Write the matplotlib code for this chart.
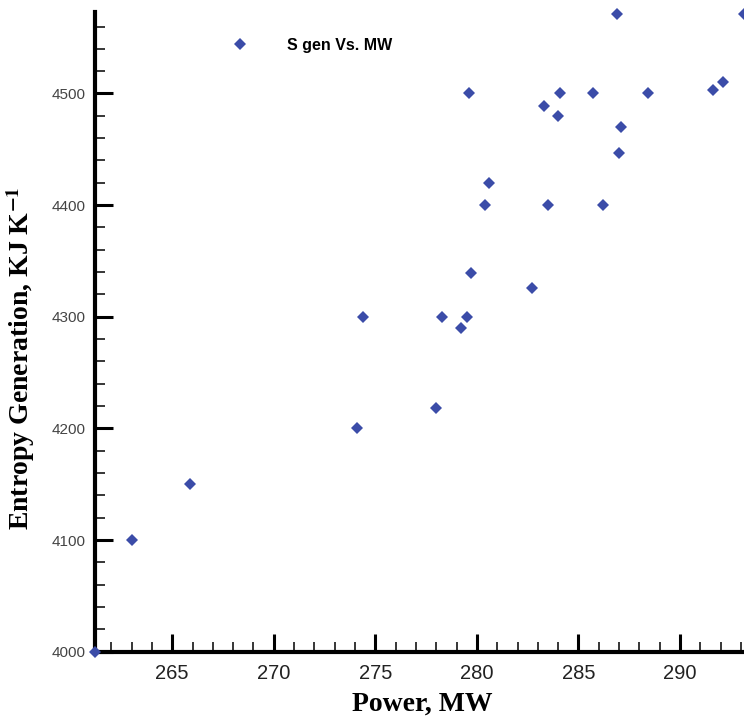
import matplotlib.pyplot as plt
from matplotlib.ticker import MultipleLocator

# dados
power_mw = [261.2, 263.0, 265.9, 274.1, 274.4, 278.0, 278.3, 279.2, 279.5,
            279.7, 279.6, 280.4, 280.6, 282.7, 283.3, 283.5, 284.1, 284.0,
            285.7, 286.2, 286.9, 287.0, 287.1, 288.4, 291.6, 292.1, 293.15]
s_gen = [4000, 4100, 4150, 4200, 4300, 4218, 4300, 4290, 4300,
         4339, 4500, 4400, 4420, 4326, 4489, 4400, 4500, 4480,
         4500, 4400, 4571, 4447, 4470, 4500, 4503, 4510, 4571]
series_name = 'S gen Vs. MW'

plt.rcParams['mathtext.fontset'] = 'stix'

fig = plt.figure(figsize=(7.44, 7.2), dpi=100)
ax = fig.add_axes([95 / 744, 68.3 / 720, 649 / 744, 639.7 / 720])

ax.plot(power_mw, s_gen, linestyle='none', marker='D', ms=6.2, mew=0,
        color='#3b4ca8', label=series_name, clip_on=False, zorder=3)

ax.set_xlim(261.2, 293.15)
ax.set_ylim(4000, 4573)

# eixos: só esquerda e baixo, grossos
for side in ['top', 'right']:
    ax.spines[side].set_visible(False)
for side in ['left', 'bottom']:
    ax.spines[side].set_linewidth(3)

ax.xaxis.set_major_locator(MultipleLocator(5))
ax.xaxis.set_minor_locator(MultipleLocator(1))
ax.yaxis.set_major_locator(MultipleLocator(100))
ax.yaxis.set_minor_locator(MultipleLocator(20))

ax.tick_params(which='major', direction='in', length=13, width=2.2)
ax.tick_params(which='minor', direction='in', length=7, width=1.1)
ax.tick_params(axis='x', which='major', pad=8.5, labelsize=14.5, labelcolor='#222222')
ax.tick_params(axis='y', which='major', pad=6.5, labelsize=11, labelcolor='#444444')
for lab in ax.get_xticklabels() + ax.get_yticklabels():
    lab.set_family('Liberation Sans')

ax.set_xlabel('Power, MW', family='Liberation Serif', fontweight='bold', fontsize=20)
ax.set_ylabel('Entropy Generation, KJ K$^{\\mathbf{-1}}$', family='Liberation Serif',
              fontweight='bold', fontsize=20)
ax.xaxis.set_label_coords(0.505, -0.063)
ax.yaxis.set_label_coords(-0.09, 0.459)

ax.legend(loc='center left', bbox_to_anchor=(0.1988, 0.9484), frameon=False,
          borderpad=0, borderaxespad=0, handlelength=2.0, handletextpad=1.94,
          numpoints=1, prop={'family': 'Liberation Sans', 'weight': 'bold', 'size': 11.5})

plt.savefig('out.png', dpi=100)
